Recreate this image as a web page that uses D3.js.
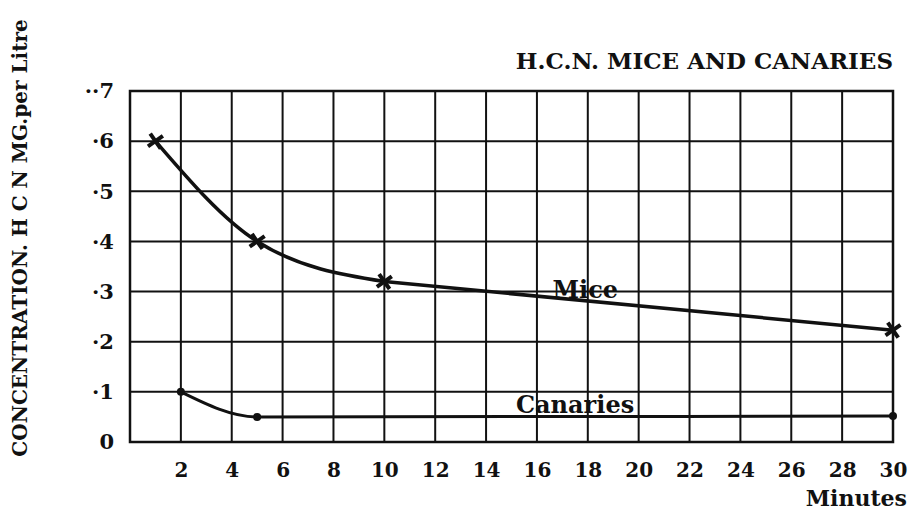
<!DOCTYPE html>
<html>
<head>
<meta charset="utf-8">
<script src="https://cdn.jsdelivr.net/npm/d3@7"></script>
<style>
  html, body { margin: 0; padding: 0; background: #fff; }
  svg { display: block; }
  text { font-family: "DejaVu Serif", serif; font-weight: bold; fill: #111; }
</style>
</head>
<body>
<svg id="chart" width="911" height="513"></svg>
<script>
// ---- data ----
const title = "H.C.N. MICE AND CANARIES";
const yLabel = "CONCENTRATION.  H C N  MG.per Litre";
const xLabel = "Minutes";
const xTicks = [2, 4, 6, 8, 10, 12, 14, 16, 18, 20, 22, 24, 26, 28, 30];
const yTicks = [0, 0.1, 0.2, 0.3, 0.4, 0.5, 0.6, 0.7];
const yTickLabels = ["0", "·1", "·2", "·3", "·4", "·5", "·6", "··7"];
const miceMinutes = [1, 5, 10, 30];
const miceConc = [0.6, 0.4, 0.32, 0.223];
const canaryMinutes = [2, 5, 30];
const canaryConc = [0.1, 0.05, 0.052];
const seriesLabels = ["Mice", "Canaries"];

// ---- layout ----
const svg = d3.select("#chart");
const x = d3.scaleLinear().domain([0, 30]).range([130, 893]);
const y = d3.scaleLinear().domain([0, 0.7]).range([442, 91]);
const ink = "#111";

// grid
const grid = svg.append("g");
grid.selectAll("line.v").data(d3.range(0, 31, 2)).join("line")
  .attr("x1", d => x(d)).attr("x2", d => x(d))
  .attr("y1", y(0.7)).attr("y2", y(0))
  .attr("stroke", ink).attr("stroke-width", 2);
grid.selectAll("line.h").data(yTicks).join("line")
  .attr("x1", x(0)).attr("x2", x(30))
  .attr("y1", d => y(d)).attr("y2", d => y(d))
  .attr("stroke", ink).attr("stroke-width", 2);
grid.append("rect")
  .attr("x", x(0)).attr("y", y(0.7))
  .attr("width", x(30) - x(0)).attr("height", y(0) - y(0.7))
  .attr("fill", "none").attr("stroke", ink).attr("stroke-width", 2.5);

// axes (labels only)
const xAxis = d3.axisBottom(x).tickValues(xTicks).tickSize(0).tickPadding(0).tickFormat(d3.format("d"));
const gx = svg.append("g").attr("transform", "translate(0,463)").call(xAxis);
gx.select(".domain").remove();
gx.selectAll("text").attr("font-size", 20).attr("font-family", "DejaVu Serif").attr("font-weight", "bold").attr("fill", ink).attr("dy", "0.71em");

const yAxis = d3.axisLeft(y).tickValues(yTicks).tickSize(0).tickPadding(0)
  .tickFormat((d, i) => yTickLabels[i]);
const gy = svg.append("g").attr("transform", "translate(114,0)").call(yAxis);
gy.select(".domain").remove();
gy.selectAll("text").attr("font-size", 21).attr("font-family", "DejaVu Serif").attr("font-weight", "bold").attr("fill", ink);

// lines: smooth fall for the early points, nearly straight afterwards
const mice = miceMinutes.map((m, i) => [m, miceConc[i]]);
const canaries = canaryMinutes.map((m, i) => [m, canaryConc[i]]);
const smooth = d3.line().x(d => x(d[0])).y(d => y(d[1])).curve(d3.curveMonotoneX);
const straight = d3.line().x(d => x(d[0])).y(d => y(d[1]));

svg.append("path").datum(mice.slice(0, 3)).attr("d", smooth)
  .attr("fill", "none").attr("stroke", ink).attr("stroke-width", 3.5);
svg.append("path").datum(mice.slice(2)).attr("d", straight)
  .attr("fill", "none").attr("stroke", ink).attr("stroke-width", 3.5);
svg.append("path").datum(canaries).attr("d", smooth)
  .attr("fill", "none").attr("stroke", ink).attr("stroke-width", 3);

// markers
const xSym = d3.symbol().type(d3.symbolX).size(110);
svg.selectAll("path.mm").data(mice).join("path")
  .attr("transform", d => `translate(${x(d[0])},${y(d[1])}) rotate(10)`)
  .attr("d", xSym).attr("fill", "none").attr("stroke", ink).attr("stroke-width", 4);
svg.selectAll("circle.cm").data(canaries).join("circle")
  .attr("cx", d => x(d[0])).attr("cy", d => y(d[1])).attr("r", 4).attr("fill", ink);

// series labels
svg.append("text").attr("x", x(17.9)).attr("y", y(0.3) + 6)
  .attr("text-anchor", "middle").attr("font-size", 24).text(seriesLabels[0]);
svg.append("text").attr("x", x(17.5)).attr("y", y(0.05) - 4)
  .attr("text-anchor", "middle").attr("font-size", 24).text(seriesLabels[1]);

// title & axis titles
svg.append("text").attr("x", 893).attr("y", 69).attr("text-anchor", "end")
  .attr("font-size", 23).text(title);
svg.append("text").attr("x", 907).attr("y", 506).attr("text-anchor", "end")
  .attr("font-size", 22).text(xLabel);
svg.append("text").attr("transform", "translate(27,238) rotate(-90)")
  .attr("text-anchor", "middle").attr("font-size", 20).text(yLabel);
</script>
</body>
</html>
